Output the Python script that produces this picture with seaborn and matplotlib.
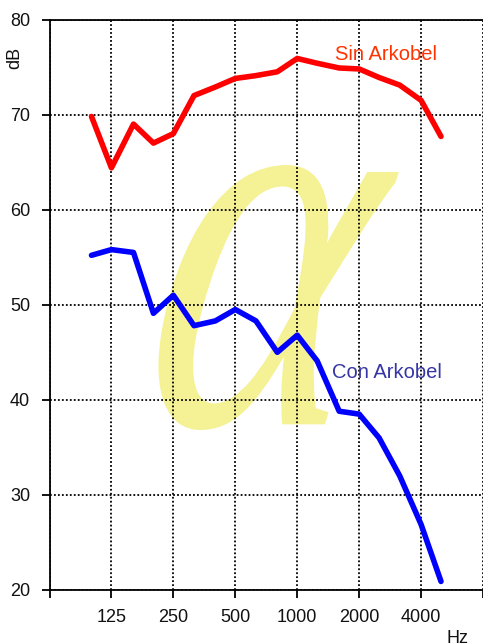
import numpy as np
import pandas as pd
import matplotlib
matplotlib.use("Agg")
import matplotlib.pyplot as plt
import matplotlib.transforms as mtransforms
from matplotlib.textpath import TextPath
from matplotlib.patches import PathPatch
from matplotlib.font_manager import FontProperties
import seaborn as sns

freqs = [100, 125, 160, 200, 250, 315, 400, 500, 630, 800, 1000, 1250, 1600, 2000, 2500, 3150, 4000, 5000]
sin_arkobel = [69.8, 64.4, 69.0, 67.0, 68.0, 72.0, 72.9, 73.8, 74.1, 74.5, 75.9, 75.4, 74.9, 74.8, 73.9, 73.1, 71.5, 67.7]
con_arkobel = [55.2, 55.8, 55.5, 49.1, 51.0, 47.8, 48.3, 49.5, 48.3, 45.0, 46.8, 44.1, 38.8, 38.5, 36.0, 32.0, 26.9, 20.9]
xticks = [62.5, 125, 250, 500, 1000, 2000, 4000, 8000]
xtick_labels = ["", "125", "250", "500", "1000", "2000", "4000", ""]
yticks = [20, 30, 40, 50, 60, 70, 80]

sns.set_style("white")
plt.rcParams['font.family'] = ['Liberation Sans', 'DejaVu Sans']

W, H = 483, 643
fig = plt.figure(figsize=(W / 100, H / 100), dpi=100)
L, R, T, B = 49.5, 483, 19.5, 590
ax = fig.add_axes([L / W, (H - B) / H, (R - L) / W, (B - T) / H])

df = pd.DataFrame({"Hz": freqs, "Sin": sin_arkobel, "Con": con_arkobel})

# watermark alpha (decorative glyph), fitted into its box in figure pixels
tp = TextPath((0, 0), "α", size=1, prop=FontProperties(family="Liberation Serif", style="italic"))
ext = tp.get_extents()
skew = np.tan(np.radians(12))
box_x0, box_x1, box_top, box_bot = 145, 400, 165, 430
norm = (mtransforms.Affine2D()
        .translate(-ext.x0, -ext.y0)
        .scale(1 / ext.width, 1 / ext.height)
        .skew(np.radians(12), 0))
sx = (box_x1 - box_x0) / (1 + skew)
sy = box_bot - box_top
pix = norm + mtransforms.Affine2D().scale(sx, sy).translate(box_x0, H - box_bot)
tofig = pix + mtransforms.Affine2D().scale(1 / W, 1 / H) + fig.transFigure
wm = PathPatch(tp, transform=tofig, facecolor="#F4F08A", edgecolor="none", alpha=0.9, zorder=0.5)
ax.add_patch(wm)

sns.lineplot(data=df, x="Hz", y="Sin", ax=ax, color="#FF0000", linewidth=4, zorder=3)
sns.lineplot(data=df, x="Hz", y="Con", ax=ax, color="#0000FF", linewidth=4, zorder=3)

ax.set_xscale("log", base=2)
ax.set_xlim(62.5, 8000)
ax.set_ylim(20, 80)
ax.set_xticks(xticks)
ax.set_xticklabels(xtick_labels)
ax.minorticks_off()
ax.set_yticks(yticks)
ax.set_xlabel("")
ax.set_ylabel("")

ax.grid(True, color="black", linestyle=(0, (1, 1.2)), linewidth=1.3, zorder=1)
ax.set_axisbelow(False)
for s in ["left", "bottom", "top"]:
    ax.spines[s].set_visible(True)
    ax.spines[s].set_color("black")
    ax.spines[s].set_linewidth(1.3)
ax.spines["right"].set_visible(False)

ax.tick_params(axis="both", which="major", direction="out", length=6, width=1.3,
               color="black", labelsize=13, labelcolor="#111111", bottom=True, left=True)
ax.tick_params(axis="y", pad=8)
ax.tick_params(axis="x", pad=8)

ax.text(335 / W, 1 - 54 / H, "Sin Arkobel", transform=fig.transFigure, fontsize=14.5,
        color="#FF3300", ha="left", va="center")
ax.text(332 / W, 1 - 373 / H, "Con Arkobel", transform=fig.transFigure, fontsize=14.5,
        color="#3535A5", ha="left", va="center")
fig.text(15 / W, 1 - 58 / H, "dB", rotation=90, fontsize=13, color="#111111",
         ha="center", va="center")
fig.text(458 / W, 1 - 643 / H, "Hz", fontsize=13, color="#111111", ha="center", va="baseline")

fig.savefig("out.png", dpi=100)
